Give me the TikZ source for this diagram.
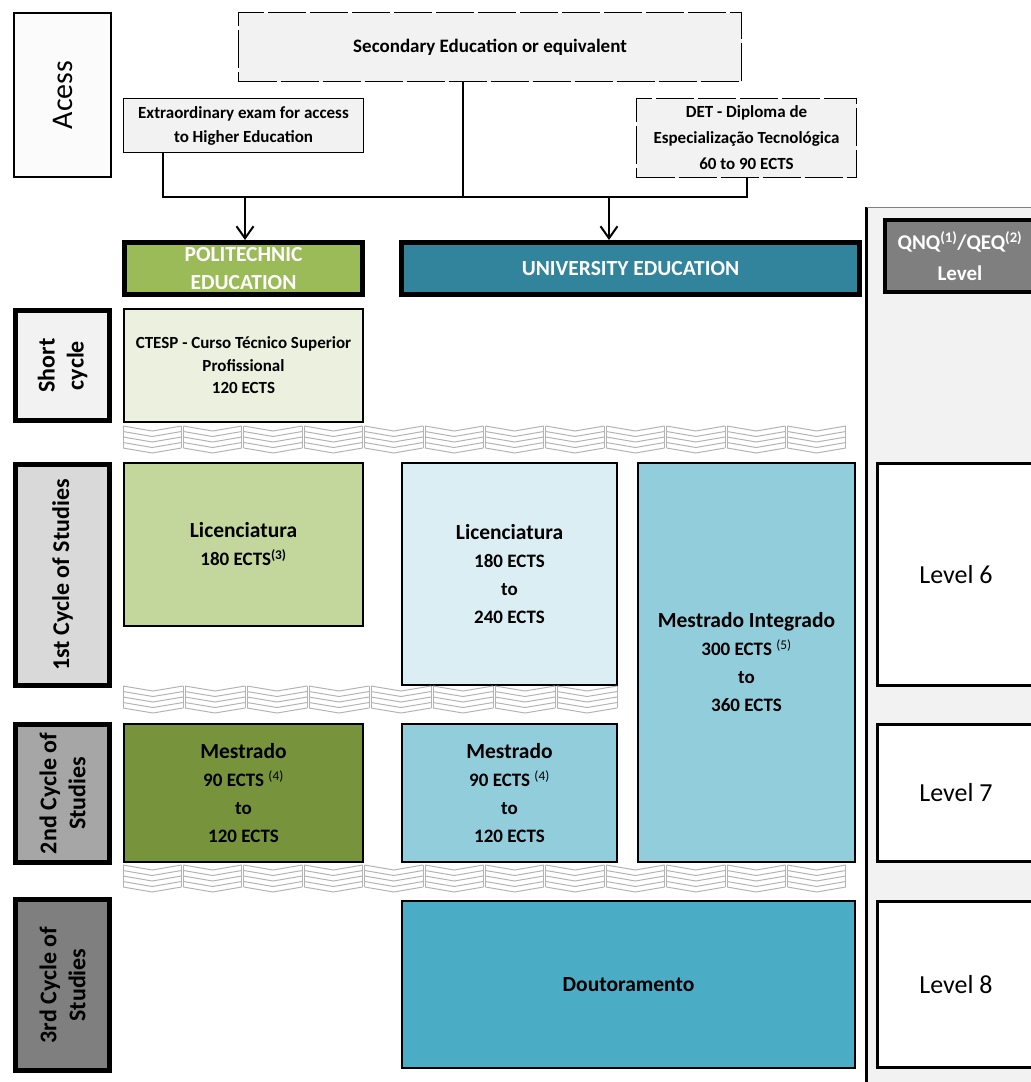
\documentclass[tikz,border=0pt]{standalone}
\usepackage{fontspec}
\setmainfont{Carlito}
\usetikzlibrary{arrows.meta}

\definecolor{accFill}{HTML}{F2F2F2}
\definecolor{labFill}{HTML}{FBFBFB}
\definecolor{poliHead}{HTML}{9BBB59}
\definecolor{uniHead}{HTML}{31849B}
\definecolor{ctespFill}{HTML}{EBF1DE}
\definecolor{liceP}{HTML}{C3D69B}
\definecolor{liceU}{HTML}{DBEEF3}
\definecolor{mestInt}{HTML}{92CDDC}
\definecolor{mestP}{HTML}{77933C}
\definecolor{mestU}{HTML}{92CDDC}
\definecolor{doutFill}{HTML}{4BACC6}
\definecolor{shortFill}{HTML}{F2F2F2}
\definecolor{firstFill}{HTML}{D9D9D9}
\definecolor{secondFill}{HTML}{A6A6A6}
\definecolor{thirdFill}{HTML}{7F7F7F}
\definecolor{qnqFill}{HTML}{7F7F7F}
\definecolor{panelFill}{HTML}{F2F2F2}
\definecolor{waveGray}{HTML}{B3B3B3}

\tikzset{every picture/.style={line width=1.5pt}}
\tikzset{
  box/.style={draw, rectangle, inner sep=0pt, align=center, line width=2pt},
  accbox/.style={box, fill=accFill, line width=1.5pt, font=\fontsize{17}{24}\selectfont\bfseries},
  headbox/.style={box, line width=5pt, text=white, font=\fontsize{21.5}{28}\selectfont\bfseries},
  sidebox/.style={box, line width=5pt, rotate=90, font=\fontsize{24}{29}\selectfont\bfseries},
  progbox/.style={box, font=\fontsize{19}{28}\selectfont\bfseries},
  lvlbox/.style={box, fill=white, line width=3pt, font=\fontsize{26}{30}\selectfont},
  conn/.style={line width=2pt},
  arr/.style={conn, -{Straight Barb[length=12pt,width=17pt]}},
  wave/.style={line width=1pt, draw=waveGray},
}
\newcommand{\boxtitle}[1]{{\fontsize{21.5}{28}\selectfont #1}}

\begin{document}
\begin{tikzpicture}[x=1pt,y=1pt,yscale=-1]
\useasboundingbox (0,0) rectangle (1031,1082);
\clip (0,0) rectangle (1031,1082);

%Level panel
\fill[panelFill] (866,207) rectangle (1040,1090);
\draw[line width=3pt] (866.5,207) -- (866.5,1090);
\draw[line width=0.8pt, draw=gray] (866.5,207) -- (1040,207);

%Access row
\node[box, rotate=90, fill=labFill, minimum width=164, minimum height=97, font=\fontsize{30}{36}\selectfont] (acess) at (62.5,95) {Acess};
\node[accbox, dash pattern=on 38pt off 4pt, minimum width=503, minimum height=69, font=\fontsize{19}{23}\selectfont\bfseries] (sec) at (490,47) {Secondary Education or equivalent};
\node[accbox, minimum width=240, minimum height=54] (extra) at (243.5,125.5) {Extraordinary exam for access\\to Higher Education};
\node[accbox, dash pattern=on 38pt off 4pt, minimum width=220, minimum height=79, font=\fontsize{17}{26}\selectfont\bfseries] (det) at (746.5,138) {DET - Diploma de\\Especialização Tecnológica\\60 to 90 ECTS};

%Education heads
\node[headbox, fill=poliHead, minimum width=238, minimum height=52] (poli) at (243.5,268.5) {POLITECHNIC\\EDUCATION};
\node[headbox, fill=uniHead, minimum width=458, minimum height=52] (uni) at (630.5,268.5) {UNIVERSITY EDUCATION};
\node[headbox, fill=qnqFill, line width=4pt, minimum width=150, minimum height=72, font=\fontsize{21}{31}\selectfont\bfseries] (qnq) at (960,256) {QNQ\textsuperscript{(1)}/QEQ\textsuperscript{(2)}\\Level};

%Connectors
\coordinate (jExtra) at (163,197);
\coordinate (jSec) at (463,197);
\coordinate (jDet) at (747,197);
\coordinate (jPoli) at (245,197);
\coordinate (jUni) at (609,197);
\draw[conn] (extra.south -| jExtra) -- (jExtra) -- (jDet) -- (det.south -| jDet);
\draw[conn] (sec.south -| jSec) -- (jSec);
\draw[arr] (jPoli) -- (poli.north -| jPoli);
\draw[arr] (jUni) -- (uni.north -| jUni);

%Cycle labels
\node[sidebox, fill=shortFill, minimum width=110, minimum height=94] (short) at (62.5,365.5) {Short\\cycle};
\node[sidebox, fill=firstFill, minimum width=221, minimum height=94] (first) at (62.5,575) {1st Cycle of Studies};
\node[sidebox, fill=secondFill, minimum width=138, minimum height=94] (second) at (62.5,793.5) {2nd Cycle of\\Studies};
\node[sidebox, fill=thirdFill, minimum width=171, minimum height=94] (third) at (62.5,985) {3rd Cycle of\\Studies};

%Programmes
\node[progbox, fill=ctespFill, minimum width=239, minimum height=113, font=\fontsize{17}{22.5}\selectfont\bfseries] (ctesp) at (243.5,365.5) {CTESP - Curso Técnico Superior\\Profissional\\120 ECTS};
\node[progbox, fill=liceP, minimum width=239, minimum height=163] (licP) at (243.5,544.5) {\boxtitle{Licenciatura}\\180 ECTS\textsuperscript{(3)}};
\node[progbox, fill=liceU, minimum width=215, minimum height=222] (licU) at (509.5,574) {\boxtitle{Licenciatura}\\180 ECTS\\to\\240 ECTS};
\node[progbox, fill=mestInt, minimum width=217, minimum height=399] (mInt) at (746.5,662.5) {\boxtitle{Mestrado Integrado}\\300 ECTS \textsuperscript{\mdseries(5)}\\to\\360 ECTS};
\node[progbox, fill=mestP, minimum width=239, minimum height=138] (mestP) at (243.5,793) {\boxtitle{Mestrado}\\90 ECTS \textsuperscript{\mdseries(4)}\\to\\120 ECTS};
\node[progbox, fill=mestU, minimum width=215, minimum height=138] (mestU) at (509.5,793) {\boxtitle{Mestrado}\\90 ECTS \textsuperscript{\mdseries(4)}\\to\\120 ECTS};
\node[progbox, fill=doutFill, minimum width=453, minimum height=167] (dout) at (628.5,984.5) {\boxtitle{Doutoramento}};

%Levels
\node[lvlbox, minimum width=157.5, minimum height=222] (lvl6) at (956,574.5) {Level 6};
\node[lvlbox, minimum width=157.5, minimum height=137] (lvl7) at (956,793) {Level 7};
\node[lvlbox, minimum width=157.5, minimum height=166] (lvl8) at (956,984.5) {Level 8};

%Chevron bands between cycles
\foreach \yb/\nb/\w in {426/12/60.4,686/8/62,865/12/60.4}{
  \foreach \i in {1,...,\nb}{
    \pgfmathsetmacro{\xa}{122+(\i-1)*\w+1}
    \pgfmathsetmacro{\hw}{\w/2-1}
    \foreach \k in {0,...,4}
      \draw[wave] (\xa,\yb+\k*5.5) -- ++(\hw,5) -- ++(\hw,-5);
    \draw[wave] (\xa,\yb) -- (\xa,\yb+22);
    \draw[wave] (\xa+2*\hw,\yb) -- (\xa+2*\hw,\yb+22);
  }
}
\end{tikzpicture}
\end{document}
